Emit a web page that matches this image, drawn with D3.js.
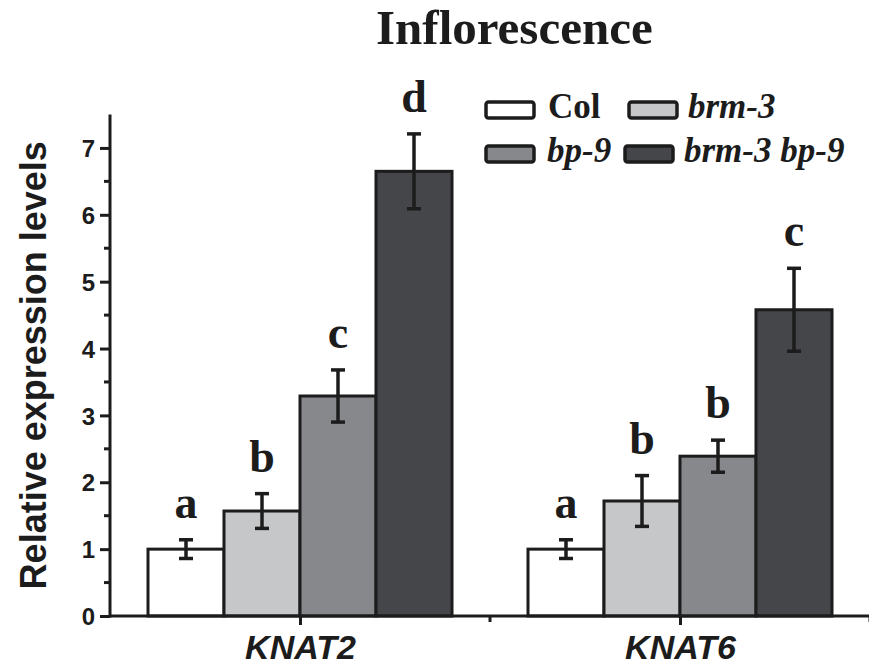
<!DOCTYPE html>
<html>
<head>
<meta charset="utf-8">
<script src="https://cdn.jsdelivr.net/npm/d3@7"></script>
<style>
  body { margin: 0; background: #fff; }
  svg { display: block; }
</style>
</head>
<body>
<script>
// data
var genes = ["KNAT2", "KNAT6"];
var genotypes = ["Col", "brm-3", "bp-9", "brm-3 bp-9"];
var colValues = [1.0, 1.0];
var colErr = [0.14, 0.14];
var brmValues = [1.57, 1.72];
var brmErr = [0.26, 0.38];
var bpValues = [3.29, 2.39];
var bpErr = [0.39, 0.24];
var doubleValues = [6.65, 4.58];
var doubleErr = [0.56, 0.62];
var sigLetters = [["a", "b", "c", "d"], ["a", "b", "b", "c"]];
var yTicks = [0, 1, 2, 3, 4, 5, 6, 7];

var fills = ["#ffffff", "#c6c7c9", "#87888c", "#45464a"];
var italicLegend = [false, true, true, true];

var seriesValues = [colValues, brmValues, bpValues, doubleValues];
var seriesErr = [colErr, brmErr, bpErr, doubleErr];

var W = 869, H = 666;
var ink = "#1c1c1c";

var bars = [];
genes.forEach(function(gene, gi) {
  genotypes.forEach(function(gt, si) {
    bars.push({
      gene: gene, gi: gi, si: si,
      value: seriesValues[si][gi],
      err: seriesErr[si][gi],
      letter: sigLetters[gi][si]
    });
  });
});

var svg = d3.select("body").append("svg")
  .attr("width", W)
  .attr("height", H);

// x is positional: gene i sits at i + 1, axis runs 0.5 .. 2.5
var x = d3.scaleLinear().domain([0.5, 2.5]).range([110, 870]);
var y = d3.scaleLinear().domain([0, 7.5]).range([616, 114.5]);
var barW = 0.2;

function barLeft(d) { return x(d.gi + 1 + (d.si - 2) * barW); }
function barCenter(d) { return x(d.gi + 1 + (d.si - 1.5) * barW); }

// bars
svg.append("g").attr("class", "bars")
  .selectAll("rect")
  .data(bars).enter()
  .append("rect")
  .attr("x", barLeft)
  .attr("y", function(d) { return y(d.value); })
  .attr("width", function(d) { return x(1 + barW) - x(1); })
  .attr("height", function(d) { return y(0) - y(d.value); })
  .attr("fill", function(d) { return fills[d.si]; })
  .attr("stroke", ink)
  .attr("stroke-width", 3);

// error bars
var eb = svg.append("g").attr("class", "errors")
  .selectAll("g")
  .data(bars).enter()
  .append("g")
  .attr("stroke", ink)
  .attr("stroke-width", 3.5);
eb.append("line")
  .attr("x1", barCenter).attr("x2", barCenter)
  .attr("y1", function(d) { return y(d.value + d.err); })
  .attr("y2", function(d) { return y(d.value - d.err); });
eb.append("line")
  .attr("x1", function(d) { return barCenter(d) - 7; })
  .attr("x2", function(d) { return barCenter(d) + 7; })
  .attr("y1", function(d) { return y(d.value + d.err); })
  .attr("y2", function(d) { return y(d.value + d.err); });
eb.append("line")
  .attr("x1", function(d) { return barCenter(d) - 7; })
  .attr("x2", function(d) { return barCenter(d) + 7; })
  .attr("y1", function(d) { return y(d.value - d.err); })
  .attr("y2", function(d) { return y(d.value - d.err); });

// significance letters
svg.append("g").attr("class", "letters")
  .selectAll("text")
  .data(bars).enter()
  .append("text")
  .attr("x", barCenter)
  .attr("y", function(d) { return y(d.value + d.err) - 22; })
  .attr("text-anchor", "middle")
  .attr("font-family", "'Liberation Serif', 'Times New Roman', serif")
  .attr("font-weight", "bold")
  .attr("font-size", 46)
  .attr("fill", ink)
  .text(function(d) { return d.letter; });

// y axis with half-step minor ticks
var yAxis = d3.axisLeft(y)
  .tickValues(yTicks)
  .tickSize(10)
  .tickPadding(5)
  .tickFormat(d3.format("d"));
var minorY = d3.range(0.5, 7.5, 1);

var gy = svg.append("g").attr("transform", "translate(110,0)");
gy.call(yAxis);
gy.select(".domain").remove();
gy.selectAll(".tick line").attr("stroke", ink).attr("stroke-width", 3);
gy.selectAll(".tick text")
  .attr("fill", ink)
  .attr("font-family", "'Liberation Sans', Arial, sans-serif")
  .attr("font-weight", "bold")
  .attr("font-size", 24)
  .attr("dy", "0.36em");
gy.selectAll(".minor")
  .data(minorY).enter()
  .append("line")
  .attr("class", "minor")
  .attr("x1", -6).attr("x2", 0)
  .attr("y1", function(d) { return y(d); })
  .attr("y2", function(d) { return y(d); })
  .attr("stroke", ink).attr("stroke-width", 3);
gy.append("line")
  .attr("x1", 0).attr("x2", 0)
  .attr("y1", y(0) + 1.5).attr("y2", y(7.5))
  .attr("stroke", ink).attr("stroke-width", 3);

// x axis: gene names at 1 and 2, minor tick between
var xAxis = d3.axisBottom(x)
  .tickValues([1, 2])
  .tickSize(9)
  .tickPadding(10)
  .tickFormat(function(d) { return genes[d - 1]; });

var gx = svg.append("g").attr("transform", "translate(0," + y(0) + ")");
gx.call(xAxis);
gx.select(".domain").remove();
gx.selectAll(".tick line").attr("stroke", ink).attr("stroke-width", 3);
gx.selectAll(".tick text")
  .attr("fill", ink)
  .attr("font-family", "'Liberation Sans', Arial, sans-serif")
  .attr("font-weight", "bold")
  .attr("font-style", "italic")
  .attr("font-size", 34)
  .attr("dy", "0.7em");
gx.selectAll(".minor")
  .data([1.5, 2.5]).enter()
  .append("line")
  .attr("class", "minor")
  .attr("x1", function(d) { return x(d); })
  .attr("x2", function(d) { return x(d); })
  .attr("y1", 0).attr("y2", 6)
  .attr("stroke", ink).attr("stroke-width", 3);
gx.append("line")
  .attr("x1", x(0.5)).attr("x2", x(2.5))
  .attr("y1", 0).attr("y2", 0)
  .attr("stroke", ink).attr("stroke-width", 3);

// y title
svg.append("text")
  .attr("transform", "translate(46," + (y(0) + y(7.5)) / 2 + ") rotate(-90)")
  .attr("text-anchor", "middle")
  .attr("font-family", "'Liberation Sans', Arial, sans-serif")
  .attr("font-weight", "bold")
  .attr("font-size", 36)
  .attr("fill", ink)
  .text("Relative expression levels");

// title
svg.append("text")
  .attr("x", 376)
  .attr("y", 44)
  .attr("font-family", "'Liberation Serif', 'Times New Roman', serif")
  .attr("font-weight", "bold")
  .attr("font-size", 49)
  .attr("fill", ink)
  .text("Inflorescence");

// legend, 2 x 2
var legendPos = [
  { sx: 486, sy: 102, tx: 548 },
  { sx: 629, sy: 102, tx: 688 },
  { sx: 486, sy: 146, tx: 547 },
  { sx: 625, sy: 146, tx: 684 }
];
var lg = svg.append("g").attr("class", "legend")
  .selectAll("g")
  .data(genotypes).enter()
  .append("g");
lg.append("rect")
  .attr("x", function(d, i) { return legendPos[i].sx; })
  .attr("y", function(d, i) { return legendPos[i].sy; })
  .attr("width", 48)
  .attr("height", 16)
  .attr("rx", 2.5)
  .attr("fill", function(d, i) { return fills[i]; })
  .attr("stroke", ink)
  .attr("stroke-width", 3.5);
lg.append("text")
  .attr("x", function(d, i) { return legendPos[i].tx; })
  .attr("y", function(d, i) { return legendPos[i].sy + 16; })
  .attr("font-family", "'Liberation Serif', 'Times New Roman', serif")
  .attr("font-weight", "bold")
  .attr("font-style", function(d, i) { return italicLegend[i] ? "italic" : "normal"; })
  .attr("font-size", 35)
  .attr("fill", ink)
  .text(function(d) { return d; });
</script>
</body>
</html>
